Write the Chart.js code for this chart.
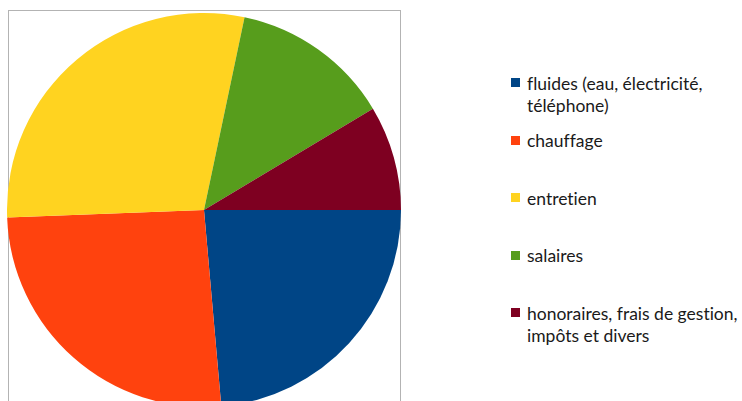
<!DOCTYPE html>
<html>
<head>
<meta charset="utf-8">
<script src="https://cdn.jsdelivr.net/npm/chart.js@4/dist/chart.umd.min.js"></script>
<style>
  html, body { margin: 0; padding: 0; background: #fff; overflow: hidden; }
  body { width: 742px; height: 401px; position: relative; }
  #frame { position: absolute; left: 8px; top: 10px; width: 391px; height: 400px; border: 1px solid #b3b3b3; }
  #pie { position: absolute; left: 7px; top: 10px; }
  .item { position: absolute; left: 511px; font-family: Lato, "Open Sans", sans-serif; font-size: 17.5px; line-height: 22px; color: #1a1a1a; white-space: nowrap; font-variant-ligatures: none; }
  .item .box { position: absolute; left: 0; top: 5.5px; width: 9px; height: 9px; }
  .item .txt { margin-left: 16px; }
</style>
</head>
<body>
<div id="frame"></div>
<canvas id="pie" width="394" height="400"></canvas>
<div id="legend"></div>
<script>
const labels = [
  ['fluides (eau, électricité,', 'téléphone)'],
  ['chauffage'],
  ['entretien'],
  ['salaires'],
  ['honoraires, frais de gestion,', 'impôts et divers']
]
const values = [23.6, 25.8, 28.9, 13.1, 8.6]
const colors = ['#004586', '#ff420e', '#ffd320', '#579d1c', '#7e0021']

new Chart(document.querySelector('#pie'), {
  type: 'pie',
  data: {
    labels: labels.map(l => l.join(' ')),
    datasets: [{
      data: values,
      backgroundColor: colors,
      borderWidth: 0
    }]
  },
  options: {
    responsive: false,
    animation: false,
    rotation: 90,
    layout: { padding: 0 },
    plugins: {
      legend: { display: false },
      tooltip: { enabled: false }
    }
  }
})

// legend on the right, one entry every 57.5px
const legend = document.querySelector('#legend')
labels.forEach((lines, i) => {
  const item = document.createElement('div')
  item.className = 'item'
  item.style.top = (72.5 + i * 57.5) + 'px'
  const box = document.createElement('span')
  box.className = 'box'
  box.style.background = colors[i]
  item.appendChild(box)
  const txt = document.createElement('div')
  txt.className = 'txt'
  lines.forEach(line => {
    const row = document.createElement('div')
    row.textContent = line
    txt.appendChild(row)
  })
  item.appendChild(txt)
  legend.appendChild(item)
})
</script>
</body>
</html>
